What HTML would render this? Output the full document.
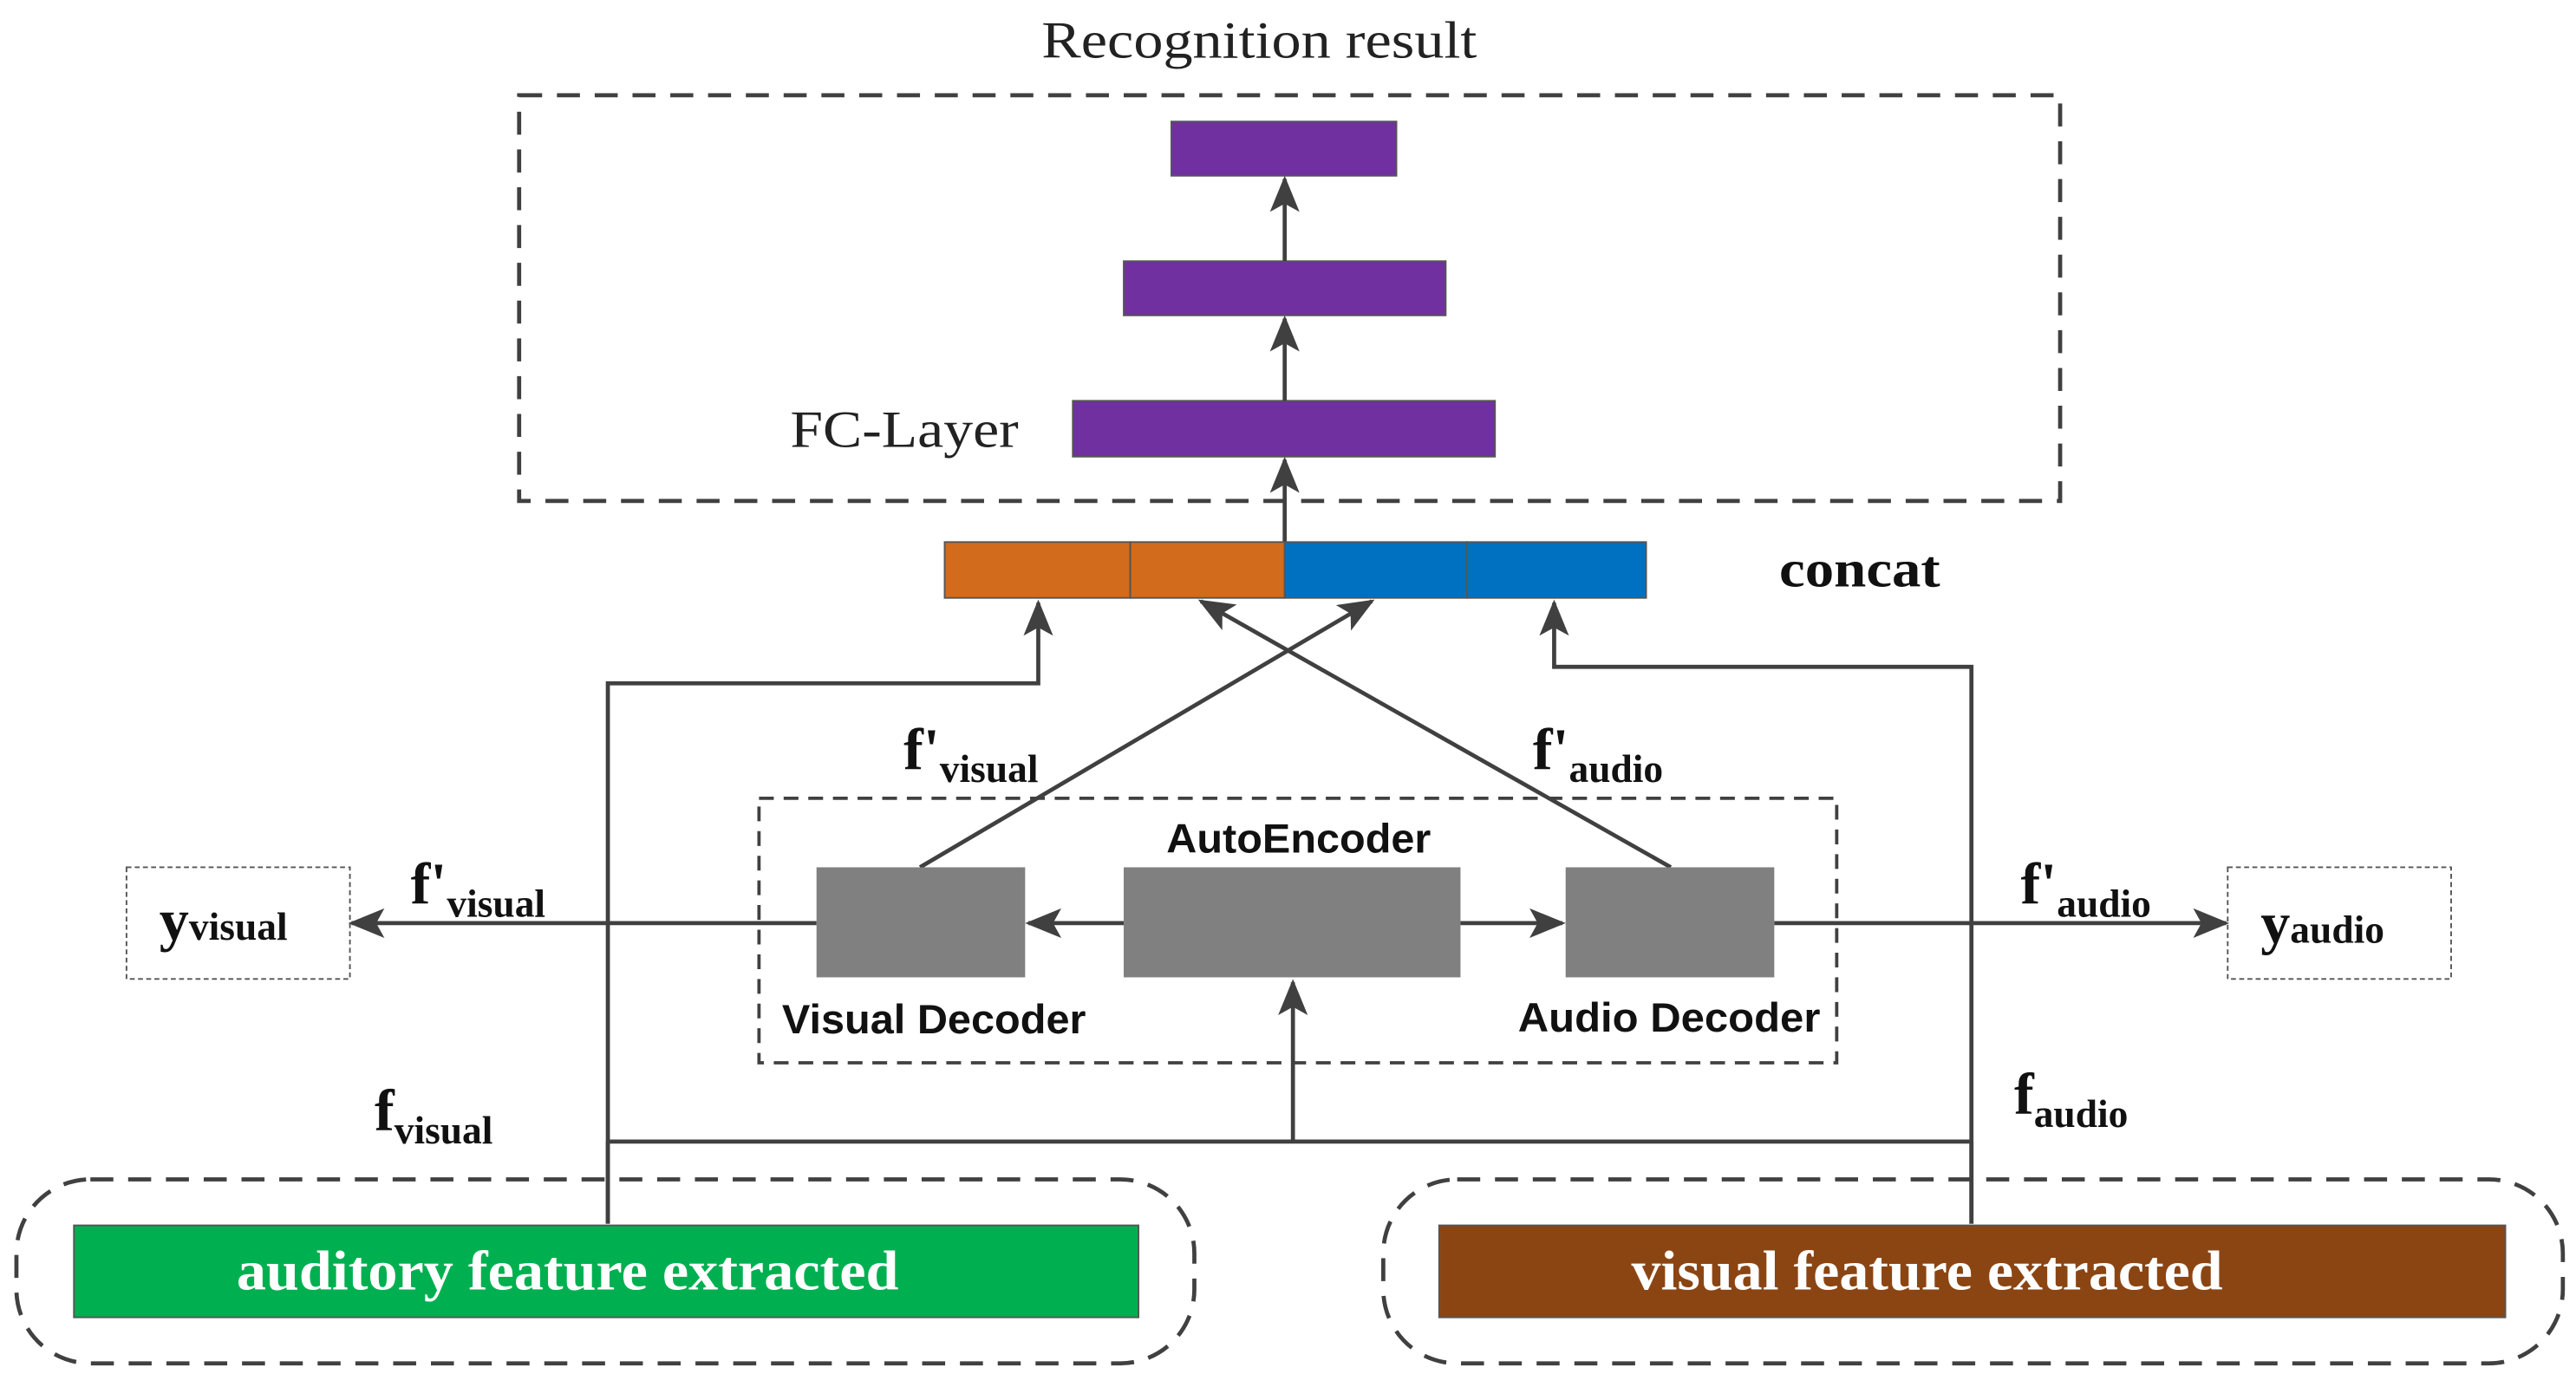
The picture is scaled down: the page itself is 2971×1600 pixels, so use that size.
<!DOCTYPE html>
<html><head><meta charset="utf-8"><style>
html,body{margin:0;padding:0;background:#fff}
svg{display:block}
.s{font-family:"Liberation Serif",serif}
.a{font-family:"Liberation Sans",sans-serif}
</style></head><body>
<svg width="2971" height="1600" viewBox="0 0 1568 844.4" preserveAspectRatio="none" xmlns="http://www.w3.org/2000/svg">
<defs>
<marker id="ar2" markerWidth="22" markerHeight="18" refX="20" refY="9" orient="auto" markerUnits="userSpaceOnUse" viewBox="0 0 22 18">
<path d="M0,0 L22,9 L0,18 L5,9 z" fill="#404040"/></marker>
</defs>
<rect width="1568" height="845" fill="#fff"/>
<text x="634" y="35" class="s" font-size="32" textLength="265" lengthAdjust="spacingAndGlyphs" fill="#222">Recognition result</text>
<rect x="316" y="58" width="938" height="247" fill="none" stroke="#404040" stroke-width="2.5" stroke-dasharray="14,9"/>
<rect x="713" y="74" width="137" height="33" fill="#7030a0" stroke="#555"/>
<rect x="684" y="159" width="196" height="33" fill="#7030a0" stroke="#555"/>
<rect x="653" y="244" width="257" height="34" fill="#7030a0" stroke="#555"/>
<text x="481" y="272" class="s" font-size="32" textLength="139" lengthAdjust="spacingAndGlyphs" fill="#222">FC-Layer</text>
<g stroke="#404040" stroke-width="2.5" fill="none">
<line x1="782" y1="159" x2="782" y2="109" marker-end="url(#ar2)"/>
<line x1="782" y1="244" x2="782" y2="194" marker-end="url(#ar2)"/>
<line x1="782" y1="330" x2="782" y2="280" marker-end="url(#ar2)"/>
</g>
<rect x="575" y="330" width="113" height="34" fill="#d26b1c" stroke="#555"/>
<rect x="688" y="330" width="94" height="34" fill="#d26b1c" stroke="#555"/>
<rect x="782" y="330" width="111" height="34" fill="#0070c0" stroke="#555"/>
<rect x="893" y="330" width="109" height="34" fill="#0070c0" stroke="#555"/>
<text x="1083" y="357" class="s" font-size="32" font-weight="bold" textLength="98" lengthAdjust="spacingAndGlyphs" fill="#111">concat</text>
<g stroke="#404040" stroke-width="2.5" fill="none">
<polyline points="370,745 370,416 632,416 632,367" marker-end="url(#ar2)"/>
<polyline points="1200,745 1200,406 946,406 946,367" marker-end="url(#ar2)"/>
<line x1="560" y1="528" x2="835" y2="366" marker-end="url(#ar2)"/>
<line x1="1017" y1="528" x2="731" y2="366" marker-end="url(#ar2)"/>
<line x1="370" y1="695" x2="1200" y2="695"/>
<line x1="787" y1="695" x2="787" y2="598" marker-end="url(#ar2)"/>
<line x1="497" y1="562" x2="214" y2="562" marker-end="url(#ar2)"/>
<line x1="1080" y1="562" x2="1355" y2="562" marker-end="url(#ar2)"/>
<line x1="684" y1="562" x2="626" y2="562" marker-end="url(#ar2)"/>
<line x1="889" y1="562" x2="951" y2="562" marker-end="url(#ar2)"/>
</g>
<rect x="462" y="486" width="656" height="161" fill="none" stroke="#404040" stroke-width="2" stroke-dasharray="9,6"/>
<text x="710" y="519" class="a" font-size="25" font-weight="bold" textLength="161" lengthAdjust="spacingAndGlyphs" fill="#111">AutoEncoder</text>
<rect x="497" y="528" width="127" height="67" fill="#808080"/>
<rect x="684" y="528" width="205" height="67" fill="#808080"/>
<rect x="953" y="528" width="127" height="67" fill="#808080"/>
<text x="476" y="629" class="a" font-size="25" font-weight="bold" textLength="185" lengthAdjust="spacingAndGlyphs" fill="#111">Visual Decoder</text>
<text x="924" y="628" class="a" font-size="25" font-weight="bold" textLength="184" lengthAdjust="spacingAndGlyphs" fill="#111">Audio Decoder</text>
<rect x="77" y="528" width="136" height="68" fill="none" stroke="#555" stroke-width="1" stroke-dasharray="3,2"/>
<rect x="1356" y="528" width="136" height="68" fill="none" stroke="#555" stroke-width="1" stroke-dasharray="3,2"/>
<g class="s" font-weight="bold" fill="#111">
<text x="97" y="572" font-size="36">y<tspan font-size="24">visual</tspan></text>
<text x="1376" y="574" font-size="36">y<tspan font-size="24">audio</tspan></text>
<text x="550" y="468" font-size="36">f'<tspan font-size="24" dy="8">visual</tspan></text>
<text x="933" y="468" font-size="36">f'<tspan font-size="24" dy="8">audio</tspan></text>
<text x="250" y="550" font-size="36">f'<tspan font-size="24" dy="8">visual</tspan></text>
<text x="1230" y="550" font-size="36">f'<tspan font-size="24" dy="8">audio</tspan></text>
<text x="228" y="688" font-size="36">f<tspan font-size="24" dy="8">visual</tspan></text>
<text x="1226" y="678" font-size="36">f<tspan font-size="24" dy="8">audio</tspan></text>
</g>
<rect x="10" y="718" width="717" height="112" rx="45" fill="none" stroke="#404040" stroke-width="2.5" stroke-dasharray="14,9"/>
<rect x="842" y="718" width="718" height="112" rx="45" fill="none" stroke="#404040" stroke-width="2.5" stroke-dasharray="14,9"/>
<rect x="45" y="746" width="648" height="56" fill="#00b050" stroke="#555"/>
<rect x="876" y="746" width="649" height="56" fill="#8b4513" stroke="#555"/>
<line x1="370" y1="745" x2="370" y2="695" stroke="#404040" stroke-width="2.5"/>
<line x1="1200" y1="745" x2="1200" y2="695" stroke="#404040" stroke-width="2.5"/>
<text x="144" y="785" class="s" font-size="34" font-weight="bold" textLength="403" lengthAdjust="spacingAndGlyphs" fill="#fff">auditory feature extracted</text>
<text x="993" y="785" class="s" font-size="34" font-weight="bold" textLength="360" lengthAdjust="spacingAndGlyphs" fill="#fff">visual feature extracted</text>
</svg>
</body></html>
